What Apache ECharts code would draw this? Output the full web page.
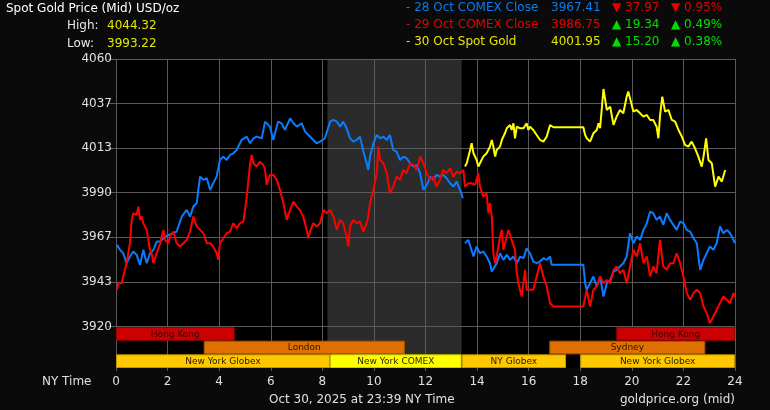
<!DOCTYPE html>
<html><head><meta charset="utf-8">
<script src="https://cdn.jsdelivr.net/npm/echarts@6/dist/echarts.min.js"></script>
<style>html,body{margin:0;padding:0;background:#0a0a0a;}#c{width:770px;height:410px;}</style>
</head><body><div id="c"></div>
<script>
// ---------- DATA ----------
const headerTitle = 'Spot Gold Price (Mid) USD/oz';
const statLabels = ['High:', 'Low:'];
const statValues = ['4044.32', '3993.22'];
const legendNames = ['- 28 Oct COMEX Close', '- 29 Oct COMEX Close', '- 30 Oct Spot Gold'];
const legendValues = ['3967.41', '3986.75', '4001.95'];
const legendChanges = ['▼ 37.97', '▲ 19.34', '▲ 15.20'];
const legendPcts = ['▼ 0.95%', '▲ 0.49%', '▲ 0.38%'];
const footerAxisName = 'NY Time';
const footerDate = 'Oct 30, 2025 at 23:39 NY Time';
const footerSource = 'goldprice.org (mid)';

const yMin = 3920, yMax = 4060;
const yTickLabels = ['3920', '3943', '3967', '3990', '4013', '4037', '4060'];
const xMin = 0, xMax = 24, xStep = 2;

const comexShade = [[8.2, 13.4]];

const sessionNames = ['Hong Kong', 'London', 'New York Globex', 'New York COMEX', 'NY Globex', 'Sydney', 'New York Globex', 'Hong Kong'];
const sessionStart = [0, 3.4, 0, 8.3, 13.4, 16.8, 18.0, 19.4];
const sessionEnd   = [4.6, 11.2, 8.3, 13.4, 17.45, 22.85, 24, 24];
const sessionRow   = [0, 1, 2, 2, 2, 1, 2, 0];
const sessionKind  = ['hk', 'ldn', 'glx', 'comex', 'glx', 'ldn', 'glx', 'hk'];

// 28 Oct COMEX Close (blue) [hour, price]
const blue28PartA = [
[0.03,3962.72],[0.16,3960.11],[0.28,3958.36],[0.41,3953.13],[0.54,3956.62],[0.67,3959.24],[0.80,3957.49],[0.93,3952.26],
[1.06,3960.11],[1.19,3953.13],[1.32,3958.36],[1.45,3960.11],[1.58,3964.47],[1.71,3964.47],[1.84,3966.21],[2.03,3967.95],
[2.22,3968.82],[2.35,3969.70],[2.55,3977.54],[2.74,3981.03],[2.87,3977.54],[3.00,3982.77],[3.13,3984.51],[3.19,3991.49],
[3.26,3998.46],[3.39,3996.72],[3.52,3997.59],[3.65,3991.49],[3.77,3994.97],[3.90,3998.46],[4.03,4007.18],[4.16,4008.92],
[4.29,4007.18],[4.42,4009.79],[4.55,4010.66],[4.68,4012.41],[4.74,4014.15],[4.87,4017.64],[5.07,4019.38],[5.20,4015.89],
[5.33,4018.51],[5.45,4019.38],[5.65,4018.51],[5.78,4027.23],[5.84,4028.10],[5.97,4024.61],[6.10,4017.64],[6.23,4024.61],
[6.29,4027.23],[6.42,4026.35],[6.55,4022.87],[6.75,4028.97],[6.88,4026.35],[7.01,4024.61],[7.20,4026.35],[7.33,4022.00],
[7.46,4020.25],[7.65,4017.64],[7.78,4015.89],[7.91,4016.77],[8.10,4018.51],[8.30,4027.23],[8.43,4028.10],[8.56,4027.23],
[8.69,4024.61],[8.81,4027.23],[8.94,4023.74],[9.07,4018.51],[9.20,4016.77],[9.33,4017.64],[9.46,4019.38],[9.59,4011.54],
[9.72,4005.43],[9.78,4001.95],[9.85,4008.92],[9.98,4015.89],[10.11,4020.25],[10.24,4018.51],[10.37,4019.38],[10.50,4017.64],
[10.62,4020.25],[10.75,4012.41],[10.88,4011.54],[11.01,4007.18],[11.14,4008.92],[11.27,4008.05],[11.40,4005.43],[11.53,4003.69],
[11.66,4004.56],[11.79,4000.20],[11.92,3991.49],[12.05,3994.10],[12.18,3998.46],[12.30,3996.72],[12.43,3999.33],[12.56,3998.46],
[12.69,3999.33],[12.82,3997.59],[12.95,3994.97],[13.08,3993.23],[13.21,3995.85],[13.34,3991.49],[13.45,3987.13]
];
const blue28PartB = [
[13.53,3963.59],[13.66,3965.34],[13.73,3966.21],[13.86,3956.62],[13.98,3961.85],[14.11,3958.36],[14.24,3959.24],[14.37,3956.62],
[14.50,3953.13],[14.57,3948.77],[14.63,3947.90],[14.76,3953.13],[14.89,3958.36],[15.02,3954.88],[15.15,3957.49],[15.28,3954.88],
[15.41,3956.62],[15.54,3953.13],[15.67,3956.62],[15.80,3955.75],[15.92,3960.98],[16.05,3958.36],[16.18,3954.00],[16.31,3953.13],
[16.44,3954.00],[16.57,3955.75],[16.70,3954.88],[16.83,3956.62],[16.89,3952.26],[17.35,3952.26],[18.12,3952.26],[18.19,3942.67],
[18.25,3939.19],[18.38,3942.67],[18.51,3946.16],[18.64,3940.93],[18.77,3946.16],[18.90,3935.70],[19.03,3942.67],[19.16,3944.42],
[19.29,3948.77],[19.41,3949.65],[19.54,3951.39],[19.67,3953.13],[19.80,3956.62],[19.93,3968.82],[20.00,3969.70],[20.06,3963.59],
[20.19,3967.08],[20.32,3965.34],[20.45,3970.57],[20.58,3974.05],[20.71,3980.16],[20.83,3979.28],[20.96,3975.80],[21.09,3977.54],
[21.22,3973.18],[21.35,3979.28],[21.48,3975.80],[21.61,3973.18],[21.74,3970.57],[21.87,3974.93],[22.00,3974.05],[22.13,3970.57],
[22.26,3969.70],[22.39,3966.21],[22.52,3963.59],[22.58,3956.62],[22.65,3949.65],[22.78,3954.88],[22.90,3958.36],[23.03,3961.85],
[23.16,3960.11],[23.29,3963.59],[23.42,3972.31],[23.55,3968.82],[23.68,3970.57],[23.81,3968.82],[23.94,3965.34],[24.00,3963.59]
];
// 29 Oct COMEX Close (red)
const red29 = [
[0.03,3939.19],[0.09,3942.67],[0.22,3942.67],[0.28,3946.16],[0.41,3953.13],[0.54,3963.59],[0.61,3975.80],[0.67,3979.28],
[0.80,3978.41],[0.87,3982.77],[0.93,3975.80],[1.00,3977.54],[1.06,3974.05],[1.19,3970.57],[1.32,3960.11],[1.38,3958.36],
[1.45,3953.13],[1.58,3958.36],[1.71,3963.59],[1.77,3967.08],[1.84,3970.57],[1.90,3965.34],[2.03,3963.59],[2.09,3967.08],
[2.22,3969.70],[2.35,3963.59],[2.48,3961.85],[2.61,3963.59],[2.74,3965.34],[2.87,3969.70],[3.00,3977.54],[3.13,3972.31],
[3.26,3970.57],[3.39,3968.82],[3.52,3963.59],[3.65,3963.59],[3.77,3961.85],[3.90,3958.36],[3.97,3954.88],[4.03,3963.59],
[4.16,3966.21],[4.29,3968.82],[4.42,3969.70],[4.55,3974.05],[4.68,3971.44],[4.81,3974.05],[4.94,3974.93],[5.07,3988.00],
[5.20,4005.43],[5.26,4009.79],[5.33,4005.43],[5.45,4003.69],[5.58,4006.31],[5.71,4004.56],[5.78,4001.95],[5.84,3994.10],
[5.97,3999.33],[6.10,3999.33],[6.23,3996.72],[6.36,3991.49],[6.49,3984.51],[6.62,3975.80],[6.75,3981.03],[6.88,3985.39],
[7.01,3982.77],[7.13,3981.03],[7.26,3977.54],[7.39,3970.57],[7.46,3966.21],[7.52,3969.70],[7.65,3974.05],[7.78,3972.31],
[7.91,3974.05],[8.04,3981.03],[8.17,3979.28],[8.30,3981.03],[8.43,3977.54],[8.56,3970.57],[8.69,3975.80],[8.81,3974.05],
[8.94,3967.08],[9.01,3961.85],[9.07,3972.31],[9.20,3975.80],[9.33,3974.05],[9.46,3974.93],[9.59,3969.70],[9.72,3974.05],
[9.78,3977.54],[9.85,3984.51],[9.98,3991.49],[10.11,4000.20],[10.17,4014.15],[10.24,4007.18],[10.37,4005.43],[10.50,4000.20],
[10.62,3989.74],[10.75,3993.23],[10.88,3998.46],[11.01,3996.72],[11.14,4001.95],[11.27,4000.20],[11.40,4005.43],[11.53,4004.56],
[11.66,4001.95],[11.79,4008.92],[11.92,4005.43],[12.05,4000.20],[12.18,3996.72],[12.30,3998.46],[12.43,3993.23],[12.56,3996.72],
[12.69,4001.95],[12.82,4000.20],[12.95,4002.82],[13.08,3998.46],[13.21,4001.08],[13.34,4000.20],[13.47,4001.95],[13.53,3993.23],
[13.66,3994.97],[13.79,3994.97],[13.92,3994.10],[14.05,4000.20],[14.11,3993.23],[14.24,3988.00],[14.37,3989.74],[14.44,3979.28],
[14.50,3984.51],[14.57,3977.54],[14.63,3958.36],[14.70,3953.13],[14.76,3956.62],[14.89,3967.08],[14.96,3970.57],[15.02,3960.11],
[15.15,3967.08],[15.21,3970.57],[15.34,3965.34],[15.47,3960.11],[15.54,3947.90],[15.60,3942.67],[15.73,3935.70],[15.86,3949.65],
[15.92,3939.19],[16.05,3939.19],[16.18,3939.19],[16.31,3946.16],[16.44,3953.13],[16.57,3946.16],[16.70,3940.93],[16.83,3932.21],
[16.96,3930.47],[18.12,3930.47],[18.25,3939.19],[18.38,3930.47],[18.51,3939.19],[18.64,3940.93],[18.77,3946.16],[18.90,3942.67],
[19.03,3944.42],[19.16,3942.67],[19.29,3949.65],[19.41,3951.39],[19.54,3947.90],[19.67,3949.65],[19.80,3942.67],[19.93,3951.39],
[20.06,3960.11],[20.19,3956.62],[20.32,3963.59],[20.45,3953.13],[20.58,3956.62],[20.71,3946.16],[20.83,3951.39],[20.96,3947.90],
[21.09,3965.34],[21.22,3951.39],[21.35,3949.65],[21.48,3953.13],[21.61,3953.13],[21.74,3958.36],[21.87,3953.13],[22.00,3946.16],
[22.13,3937.45],[22.26,3933.96],[22.39,3937.45],[22.52,3939.19],[22.65,3937.45],[22.78,3930.47],[22.90,3926.99],[23.03,3921.76],
[23.16,3925.24],[23.29,3928.73],[23.42,3932.21],[23.55,3935.70],[23.68,3933.96],[23.81,3932.21],[23.94,3937.45],[24.00,3935.70]
];
// 30 Oct Spot Gold (yellow)
const yellow30 = [
[13.53,4003.69],[13.60,4005.43],[13.73,4012.41],[13.79,4015.89],[13.86,4010.66],[13.98,4007.18],[14.05,4003.69],[14.11,4005.43],
[14.24,4008.92],[14.37,4010.66],[14.50,4014.15],[14.57,4017.64],[14.63,4014.15],[14.70,4008.92],[14.76,4012.41],[14.89,4014.15],
[14.96,4017.64],[15.02,4016.77],[15.08,4021.12],[15.15,4023.74],[15.28,4025.48],[15.34,4022.87],[15.41,4026.35],[15.47,4018.51],
[15.54,4024.61],[15.67,4023.74],[15.80,4023.74],[15.92,4026.35],[15.99,4022.87],[16.05,4024.61],[16.18,4022.87],[16.31,4020.25],
[16.44,4017.64],[16.57,4016.77],[16.70,4019.38],[16.83,4025.48],[16.89,4026.35],[16.96,4024.26],[18.12,4024.26],[18.19,4020.25],
[18.25,4018.51],[18.38,4016.77],[18.51,4021.12],[18.64,4022.87],[18.71,4026.35],[18.77,4023.74],[18.90,4044.32],[19.03,4033.33],
[19.16,4035.07],[19.29,4025.48],[19.41,4029.84],[19.54,4033.33],[19.67,4031.58],[19.80,4040.30],[19.86,4042.92],[19.93,4039.43],
[20.06,4032.46],[20.19,4033.33],[20.32,4031.58],[20.45,4029.84],[20.58,4030.71],[20.71,4028.10],[20.83,4028.10],[20.96,4024.61],
[21.03,4018.51],[21.09,4029.84],[21.18,4040.30],[21.29,4032.46],[21.42,4033.33],[21.55,4028.10],[21.68,4027.23],[21.81,4022.87],
[21.94,4019.38],[22.06,4015.02],[22.19,4014.15],[22.32,4016.77],[22.45,4013.28],[22.58,4008.92],[22.71,4003.69],[22.78,4008.92],
[22.88,4018.51],[22.97,4007.18],[23.10,4005.43],[23.23,3993.22],[23.36,3998.46],[23.49,3995.85],[23.62,4001.95]
];

// ---------- CHART ----------
const FONT = '"DejaVu Sans", Verdana, sans-serif';
const GRID_COL = '#5a5a5a';
const LBL_COL = '#e0e0e0';
const kindStyle = {
  hk:    {fill: '#cc0000', stroke: '#9a0000', text: '#3a0000'},
  ldn:   {fill: '#e07000', stroke: '#a85400', text: '#2a1400'},
  glx:   {fill: '#ffc800', stroke: '#c09600', text: '#2a2000'},
  comex: {fill: '#ffff00', stroke: '#c8c800', text: '#2a2a00'}
};

const blueData = blue28PartA.concat([[13.49, '-']], blue28PartB);
const sessionData = sessionNames.map((n, i) => [sessionStart[i], sessionEnd[i], sessionRow[i], i]);

function shadeItem(params, api) {
  const a = api.coord([api.value(0), params.seriesIndex === 0 ? yMax : 3]);
  const b = api.coord([api.value(1), params.seriesIndex === 0 ? yMin : 0]);
  return {type: 'rect', shape: {x: a[0], y: a[1], width: b[0] - a[0], height: b[1] - a[1]}, style: {fill: '#2b2b2b'}};
}
function bandItem(params, api) {
  const s = api.value(0), e = api.value(1), row = api.value(2), idx = api.value(3);
  const a = api.coord([s, 3 - row]);
  const b = api.coord([e, 2 - row]);
  const st = kindStyle[sessionKind[idx]];
  return {type: 'group', children: [
    {type: 'rect', shape: {x: a[0] + 0.5, y: a[1] + 0.5, width: b[0] - a[0] - 1, height: b[1] - a[1] - 1},
     style: {fill: st.fill, stroke: st.stroke, lineWidth: 1}},
    {type: 'text', style: {text: sessionNames[idx], x: (a[0] + b[0]) / 2, y: (a[1] + b[1]) / 2 + 0.5,
     align: 'center', verticalAlign: 'middle', fill: st.text, font: '9px ' + FONT}}
  ]};
}

function txt(text, x, y, color, align) {
  return {type: 'text', left: undefined, x: x, y: y, z: 10,
    style: {text: text, x: 0, y: 0, fill: color, font: '12px ' + FONT, align: align || 'left', verticalAlign: 'middle'}};
}
const graphics = [];
graphics.push(txt(headerTitle, 6, 8.5, '#ffffff'));
statLabels.forEach((l, i) => {
  graphics.push(txt(l, 67, 26 + i * 17.5, '#e8e8e8'));
  graphics.push(txt(statValues[i], 107, 26 + i * 17.5, '#e6e600'));
});
const legendCol = ['#0a7cf0', '#e80000', '#e6e600'];
const changeCol = (s) => s.charAt(0) === '▲' ? '#00e000' : '#e80000';
legendNames.forEach((n, i) => {
  const y = 8 + i * 17;
  graphics.push(txt(n, 406, y, legendCol[i]));
  graphics.push(txt(legendValues[i], 551, y, legendCol[i]));
  graphics.push(txt(legendChanges[i], 612, y, changeCol(legendChanges[i])));
  graphics.push(txt(legendPcts[i], 671, y, changeCol(legendPcts[i])));
});
graphics.push(txt(footerAxisName, 42, 382, LBL_COL));
graphics.push(txt(footerDate, 269, 399.5, LBL_COL));
graphics.push(txt(footerSource, 735, 399.5, LBL_COL, 'right'));

const chart = echarts.init(document.getElementById('c'), null, {renderer: 'canvas'});
chart.setOption({
  animation: false,
  backgroundColor: '#0a0a0a',
  grid: [
    {left: 116, top: 59, width: 619, height: 267.5, show: true, backgroundColor: '#000', borderWidth: 0},
    {left: 116, top: 327, width: 619, height: 41, show: true, backgroundColor: '#000', borderWidth: 0}
  ],
  xAxis: [
    {gridIndex: 0, type: 'value', min: xMin, max: xMax, interval: xStep, z: 1.5,
     axisLine: {show: false}, axisTick: {show: false}, axisLabel: {show: false},
     splitLine: {show: true, lineStyle: {color: GRID_COL, width: 1}}},
    {gridIndex: 1, type: 'value', min: xMin, max: xMax, interval: xStep, z: 1.5,
     axisLine: {show: false}, axisTick: {show: true, length: 3, lineStyle: {color: GRID_COL}},
     axisLabel: {show: true, color: LBL_COL, fontSize: 12, fontFamily: FONT, margin: 8},
     splitLine: {show: true, lineStyle: {color: GRID_COL, width: 1}}}
  ],
  yAxis: [
    {gridIndex: 0, type: 'value', min: yMin, max: yMax, interval: (yMax - yMin) / 6, z: 1.5,
     axisLine: {show: false}, axisTick: {show: true, length: 8, lineStyle: {color: GRID_COL}},
     axisLabel: {color: LBL_COL, fontSize: 12, fontFamily: FONT, margin: 4,
       formatter: (v, i) => yTickLabels[i] !== undefined ? yTickLabels[i] : String(Math.round(v))},
     splitLine: {show: true, lineStyle: {color: GRID_COL, width: 1}}},
    {gridIndex: 1, type: 'value', min: 0, max: 3, show: false, splitLine: {show: false}}
  ],
  graphic: graphics,
  series: [
    {type: 'custom', xAxisIndex: 0, yAxisIndex: 0, z: 1, renderItem: shadeItem, data: comexShade, silent: true},
    {type: 'custom', xAxisIndex: 1, yAxisIndex: 1, z: 1, renderItem: shadeItem, data: comexShade, silent: true},
    {type: 'custom', xAxisIndex: 1, yAxisIndex: 1, z: 3, renderItem: bandItem, data: sessionData, silent: true},
    {type: 'line', xAxisIndex: 0, yAxisIndex: 0, z: 3, data: blueData, showSymbol: false, connectNulls: false,
     lineStyle: {color: '#0a7cff', width: 2}, itemStyle: {color: '#0a7cff'}},
    {type: 'line', xAxisIndex: 0, yAxisIndex: 0, z: 4, data: red29, showSymbol: false,
     lineStyle: {color: '#ff0000', width: 2}, itemStyle: {color: '#ff0000'}},
    {type: 'line', xAxisIndex: 0, yAxisIndex: 0, z: 5, data: yellow30, showSymbol: false,
     lineStyle: {color: '#ffff00', width: 2}, itemStyle: {color: '#ffff00'}}
  ]
});
</script></body></html>
